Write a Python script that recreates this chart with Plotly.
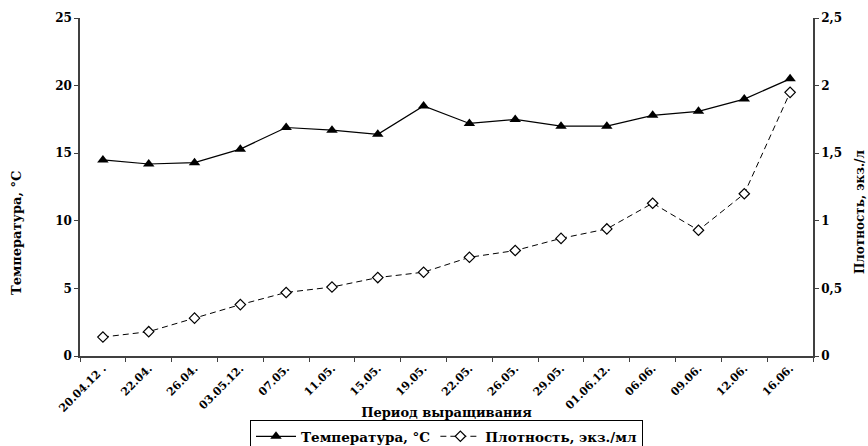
import plotly.graph_objects as go

# Sampling dates (growing period)
dates = ["20.04.12 .", "22.04.", "26.04.", "03.05.12.", "07.05.", "11.05.", "15.05.", "19.05.",
         "22.05.", "26.05.", "29.05.", "01.06.12.", "06.06.", "09.06.", "12.06.", "16.06."]

# Water temperature, °C
temperature = [14.5, 14.2, 14.3, 15.3, 16.9, 16.7, 16.4, 18.5,
               17.2, 17.5, 17.0, 17.0, 17.8, 18.1, 19.0, 20.5]

# Culture density, ind./ml
density = [0.14, 0.18, 0.28, 0.38, 0.47, 0.51, 0.58, 0.62,
           0.73, 0.78, 0.87, 0.94, 1.13, 0.93, 1.20, 1.95]

temp_ticks = [0, 5, 10, 15, 20, 25]
dens_ticks = [0, 0.5, 1, 1.5, 2, 2.5]

FONT = "DejaVu Serif"
AX = "#404040"

fig = go.Figure()
fig.add_trace(go.Scatter(
    x=dates, y=temperature, name="Температура, °C", yaxis="y",
    mode="lines+markers",
    line=dict(color="black", width=1.2),
    marker=dict(symbol="triangle-up", size=10, color="black"),
))
fig.add_trace(go.Scatter(
    x=dates, y=density, name="Плотность, экз./мл", yaxis="y2",
    mode="lines+markers",
    line=dict(color="black", width=1, dash="6px,4px"),
    marker=dict(symbol="diamond", size=8, color="white",
                line=dict(color="black", width=1.2)),
))

tick_font = dict(family=FONT, size=12, color="black", weight="bold")
title_font = dict(family=FONT, size=13, color="black", weight="bold")

fig.update_layout(
    width=868, height=446,
    margin=dict(l=80, r=55, t=18, b=90, autoexpand=False),
    plot_bgcolor="white", paper_bgcolor="white",
    separators=", ",
    showlegend=True,
    font=dict(family=FONT, color="black"),
    xaxis=dict(
        type="category", range=[-0.5, 15.5], automargin=False,
        tickson="boundaries", ticks="outside", ticklen=4, tickcolor=AX, tickwidth=1.2,
        tickangle=-45, tickfont=dict(family=FONT, size=11, color="black", weight="bold"),
        showline=True, linecolor=AX, linewidth=1.5, showgrid=False, zeroline=False,
        title=dict(text="Период выращивания", standoff=0, font=title_font),
    ),
    # inner half of the crossing tick marks on the category axis
    xaxis2=dict(
        overlaying="x", anchor="y", side="bottom", range=[-0.5, 15.5],
        tick0=-0.5, dtick=1, ticks="inside", ticklen=4, tickcolor=AX, tickwidth=1.2,
        showticklabels=False, showline=False, showgrid=False, zeroline=False,
    ),
    yaxis=dict(
        range=[0, 25], tickvals=temp_ticks, ticks="outside", ticklen=4, automargin=False,
        tickcolor=AX, tickwidth=1.2, tickfont=tick_font,
        showline=True, linecolor=AX, linewidth=1.5, showgrid=False, zeroline=False,
    ),
    yaxis2=dict(
        range=[0, 2.5], tickvals=dens_ticks, overlaying="y", side="right", anchor="x",
        automargin=False,
        ticks="outside", ticklen=4, tickcolor=AX, tickwidth=1.2, tickfont=tick_font,
        showline=True, linecolor=AX, linewidth=1.5, showgrid=False, zeroline=False,
    ),
    # inner halves of the crossing tick marks on both value axes
    yaxis3=dict(
        range=[0, 25], tickvals=temp_ticks, overlaying="y", side="left", anchor="x",
        ticks="inside", ticklen=4, tickcolor=AX, tickwidth=1.2,
        showticklabels=False, showline=False, showgrid=False, zeroline=False,
    ),
    yaxis4=dict(
        range=[0, 2.5], tickvals=dens_ticks, overlaying="y", side="right", anchor="x",
        ticks="inside", ticklen=4, tickcolor=AX, tickwidth=1.2,
        showticklabels=False, showline=False, showgrid=False, zeroline=False,
    ),
    legend=dict(
        orientation="h", x=0.5, xanchor="center",
        yref="container", y=1 - 420 / 446, yanchor="top",
        bordercolor="black", borderwidth=1, bgcolor="white",
        font=dict(family=FONT, size=13.5, color="black", weight="bold"),
        itemwidth=40, tracegroupgap=0,
    ),
    # value-axis titles, centred on the whole chart height
    annotations=[
        dict(text="Температура, °C", textangle=-90, showarrow=False,
             xref="paper", yref="paper", x=(16 - 80) / 733, y=(356 - 233) / 338,
             xanchor="center", yanchor="middle",
             font=dict(family=FONT, size=13, color="black", weight="bold")),
        dict(text="Плотность, экз./л", textangle=-90, showarrow=False,
             xref="paper", yref="paper", x=(860 - 80) / 733, y=(356 - 212) / 338,
             xanchor="center", yanchor="middle",
             font=dict(family=FONT, size=12, color="black", weight="bold")),
    ],
)

fig.write_html("out.html")
